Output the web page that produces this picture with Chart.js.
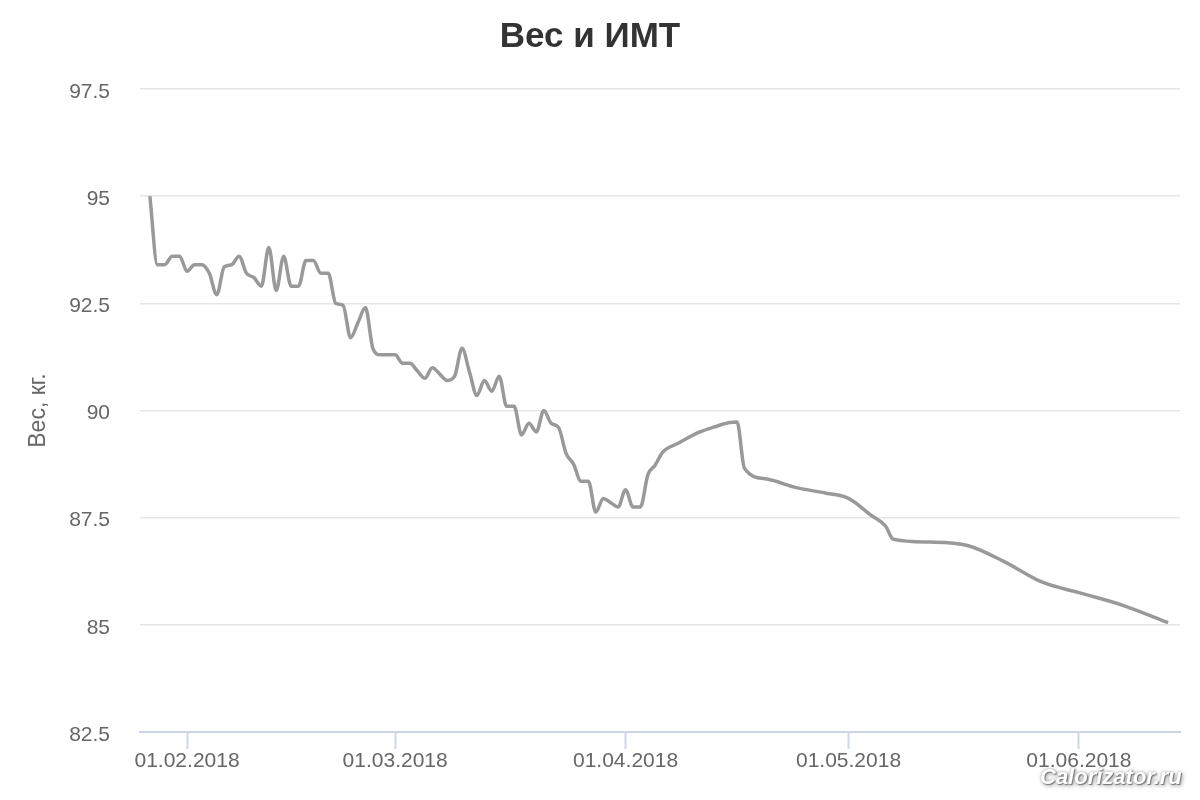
<!DOCTYPE html>
<html lang="ru">
<head>
<meta charset="utf-8">
<title>Вес и ИМТ</title>
<script src="https://cdn.jsdelivr.net/npm/chart.js@4.4.1/dist/chart.umd.min.js"></script>
<style>
  html, body { margin: 0; padding: 0; background: #fff; }
  #wrap { position: relative; width: 1200px; height: 800px; }
  #weightChart { display: block; }
  .watermark {
    position: absolute; left: 1040px; top: 764px;
    font: italic bold 22px "Liberation Sans", Arial, sans-serif;
    color: #fff;
    text-shadow: 1px 1px 1px #777, 0 0 3px #999, 2px 2px 4px #aaa;
    white-space: nowrap;
  }
</style>
</head>
<body>
<div id="wrap">
  <canvas id="weightChart" width="1200" height="800"></canvas>
  <div class="watermark">Calorizator.ru</div>
</div>
<script>
// Даты замеров и вес (кг)
const dates = [
  '27.01.2018', '28.01.2018', '29.01.2018', '30.01.2018', '31.01.2018',
  '01.02.2018', '02.02.2018', '03.02.2018', '04.02.2018', '05.02.2018',
  '06.02.2018', '07.02.2018', '08.02.2018', '09.02.2018', '10.02.2018',
  '11.02.2018', '12.02.2018', '13.02.2018', '14.02.2018', '15.02.2018',
  '16.02.2018', '17.02.2018', '18.02.2018', '19.02.2018', '20.02.2018',
  '21.02.2018', '22.02.2018', '23.02.2018', '24.02.2018', '25.02.2018',
  '26.02.2018', '27.02.2018', '28.02.2018',
  '01.03.2018', '02.03.2018', '03.03.2018', '04.03.2018', '05.03.2018',
  '06.03.2018', '07.03.2018', '08.03.2018', '09.03.2018', '10.03.2018',
  '11.03.2018', '12.03.2018', '13.03.2018', '14.03.2018', '15.03.2018',
  '16.03.2018', '17.03.2018', '18.03.2018', '19.03.2018', '20.03.2018',
  '21.03.2018', '22.03.2018', '23.03.2018', '24.03.2018', '25.03.2018',
  '26.03.2018', '27.03.2018', '28.03.2018', '29.03.2018', '30.03.2018',
  '31.03.2018',
  '01.04.2018', '02.04.2018', '03.04.2018', '04.04.2018', '05.04.2018',
  '06.04.2018', '08.04.2018', '11.04.2018', '13.04.2018', '15.04.2018',
  '16.04.2018', '17.04.2018', '20.04.2018', '24.04.2018', '28.04.2018',
  '01.05.2018', '04.05.2018', '06.05.2018', '07.05.2018', '12.05.2018',
  '17.05.2018', '22.05.2018', '27.05.2018',
  '01.06.2018', '07.06.2018', '13.06.2018'
];
const weights = [
  95.0, 93.4, 93.4, 93.6, 93.6,
  93.25, 93.4, 93.4, 93.2, 92.7,
  93.35, 93.4, 93.6, 93.2, 93.1,
  92.9, 93.8, 92.8, 93.6, 92.9,
  92.9, 93.5, 93.5, 93.2, 93.2,
  92.5, 92.45, 91.7, 92.05, 92.4,
  91.45, 91.3, 91.3,
  91.3, 91.1, 91.1, 90.92, 90.75,
  91.0, 90.85, 90.7, 90.8, 91.45,
  90.9, 90.35, 90.7, 90.45, 90.8,
  90.1, 90.1, 89.43, 89.7, 89.5,
  90.0, 89.7, 89.6, 89.0, 88.75,
  88.35, 88.35, 87.63, 87.95, 87.85,
  87.75,
  88.15, 87.75, 87.75, 88.5, 88.73,
  89.03, 89.23, 89.5, 89.62, 89.72,
  89.73, 88.65, 88.4, 88.2, 88.07,
  87.95, 87.56, 87.3, 87.0, 86.93,
  86.85, 86.47, 86.0,
  85.75, 85.45, 85.05
];
const tickDates = ['01.02.2018', '01.03.2018', '01.04.2018', '01.05.2018', '01.06.2018'];
const yTicks = [82.5, 85, 87.5, 90, 92.5, 95, 97.5];

// дата -> номер дня от 01.01.2018
function toDay(str) {
  const [d, m, y] = str.split('.').map(Number);
  return (Date.UTC(y, m - 1, d) - Date.UTC(2018, 0, 1)) / 86400000;
}

const points = dates.map((d, i) => ({ x: toDay(d), y: weights[i] }));
const tickDays = tickDates.map(toDay);

const FONT = '"Liberation Sans", Arial, sans-serif';

const ctx = document.getElementById('weightChart').getContext('2d');
new Chart(ctx, {
  type: 'line',
  data: {
    datasets: [{
      label: 'Вес',
      data: points,
      borderColor: '#999999',
      borderWidth: 3.5,
      pointRadius: 0,
      fill: false,
      cubicInterpolationMode: 'monotone'
    }]
  },
  options: {
    responsive: false,
    animation: false,
    layout: { padding: { top: 0, right: 20, bottom: 0, left: 0 } },
    plugins: {
      legend: { display: false },
      tooltip: { enabled: false },
      title: {
        display: true,
        text: 'Вес и ИМТ',
        color: '#333333',
        font: { family: FONT, size: 35, weight: 'bold' },
        padding: { top: 16, bottom: 31 }
      }
    },
    scales: {
      x: {
        type: 'linear',
        min: toDay('25.01.2018') + 0.67,
        max: toDay('14.06.2018') + 0.6,
        afterBuildTicks: (scale) => {
          scale.ticks = tickDays.map(v => ({ value: v }));
        },
        afterFit: (scale) => { scale.height = 68; },
        grid: {
          display: true,
          drawOnChartArea: false,
          drawTicks: true,
          tickLength: 17,
          tickWidth: 2,
          tickColor: '#ccd6eb'
        },
        border: { display: true, color: '#ccd6eb', width: 2 },
        ticks: {
          autoSkip: false,
          maxRotation: 0,
          padding: 0,
          color: '#666666',
          font: { family: FONT, size: 21 },
          callback: (value) => tickDates[tickDays.indexOf(value)] || ''
        }
      },
      y: {
        min: 82.5,
        max: 97.5,
        afterBuildTicks: (scale) => {
          scale.ticks = yTicks.map(v => ({ value: v }));
        },
        afterFit: (scale) => { scale.width = 140; },
        grid: {
          color: '#e6e6e6',
          lineWidth: 1.5,
          drawTicks: false
        },
        border: { display: false },
        ticks: {
          padding: 30,
          labelOffset: 3,
          color: '#666666',
          font: { family: FONT, size: 21 },
          callback: (value) => String(value)
        },
        title: {
          display: true,
          text: 'Вес, кг.',
          color: '#666666',
          font: { family: FONT, size: 23 },
          padding: { top: 25, bottom: 0 }
        }
      }
    }
  }
});
</script>
</body>
</html>
